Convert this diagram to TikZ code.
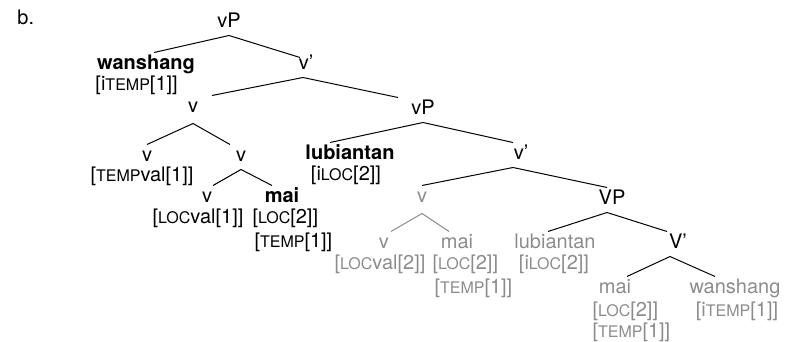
\documentclass[tikz,border=0pt]{standalone}
\usepackage{fontspec}
\setmainfont{TeX Gyre Heros}
\definecolor{trgray}{gray}{0.55}
\newcommand\featsc[1]{{\fontsize{8pt}{8pt}\selectfont #1}}
\begin{document}
\begin{tikzpicture}[x=0.5pt,y=-0.5pt,line width=0.5pt,
    cat/.style={anchor=base,inner xsep=0pt,inner ysep=1.5pt,text height=7pt,text depth=2pt},
    feat/.style={anchor=base,inner sep=0pt},
    grey/.style={text=trgray}]
            \useasboundingbox (0,0) rectangle (800,342);
            \node[feat,anchor=base west] (lbl) at (17,25) {b.};
            \node[cat] (vPa) at (229,28) {vP};
            \node[cat,font=\bfseries] (wan) at (146,70) {wanshang};
            \node[feat,anchor=base west] (wanF) at (95,91) {[i\featsc{TEMP}[1]]};
            \node[cat] (vba) at (306,70) {v'};
            \node[cat] (va) at (193,113) {v};
            \node[cat] (vPb) at (423,115) {vP};
            \node[cat] (vtem) at (147,162) {v};
            \node[feat] (vtemF) at (142,182) {[\featsc{TEMP}val[1]]};
            \node[cat] (vb) at (241,162) {v};
            \node[cat,font=\bfseries] (lub) at (350,160) {lubiantan};
            \node[feat] (lubF) at (346,181) {[i\featsc{LOC}[2]]};
            \node[cat] (vbb) at (521,160) {v'};
            \node[cat] (vloc) at (207,203) {v};
            \node[feat] (vlocF) at (198,224) {[\featsc{LOC}val[1]]};
            \node[cat,font=\bfseries] (mai) at (282,203) {mai};
            \node[feat,anchor=base west] (maiFa) at (252,224) {[\featsc{LOC}[2]]};
            \node[feat,anchor=base west] (maiFb) at (254,248) {[\featsc{TEMP}[1]]};
            \node[cat,grey] (vg) at (422,203) {v};
            \node[cat] (VPa) at (612,205) {VP};
            \node[cat,grey] (vgl) at (384,249) {v};
            \node[feat,grey] (vglF) at (380,270) {[\featsc{LOC}val[2]]};
            \node[cat,grey] (maig) at (457,249) {mai};
            \node[feat,grey,anchor=base west] (maigFa) at (432,270) {[\featsc{LOC}[2]]};
            \node[feat,grey,anchor=base west] (maigFb) at (434,294) {[\featsc{TEMP}[1]]};
            \node[cat,grey] (lubg) at (555,249) {lubiantan};
            \node[feat,grey] (lubgF) at (554,270) {[i\featsc{LOC}[2]]};
            \node[cat] (Vb) at (678,249) {V'};
            \node[cat,grey] (maih) at (615,294) {mai};
            \node[feat,grey,anchor=base west] (maihFa) at (592,317) {[\featsc{LOC}[2]]};
            \node[feat,grey,anchor=base west] (maihFb) at (592,338) {[\featsc{TEMP}[1]]};
            \node[cat,grey] (wang) at (735,294) {wanshang};
            \node[feat,grey] (wangF) at (737,317) {[i\featsc{TEMP}[1]]};
            \draw ([xshift=4pt]wan.north) -- (vPa.south) -- ([xshift=-3pt,yshift=-2.5pt]vba.north);
            \draw ([xshift=9.5pt]va.north) -- ([xshift=-1.5pt]vba.south) -- ([xshift=-12.5pt]vPb.north);
            \draw (vtem.north) -- ([yshift=-1.5pt]va.south) -- ([xshift=-5.5pt]vb.north);
            \draw ([xshift=3pt]vloc.north) -- (vb.south) -- ([xshift=-5pt]mai.north);
            \draw ([xshift=-10pt]lub.north) -- (vPb.south) -- ([xshift=-4pt]vbb.north);
            \draw (vg.north) -- ([xshift=-4pt]vbb.south) -- ([xshift=-2.5pt]VPa.north);
            \draw[trgray] ([xshift=3.5pt]vgl.north) -- ([yshift=-1.5pt]vg.south) -- ([xshift=-4pt]maig.north);
            \draw ([xshift=-3.5pt]lubg.north) -- ([xshift=-2.5pt]VPa.south) -- ([xshift=-5.5pt]Vb.north);
            \draw ([xshift=6pt]maih.north) -- ([xshift=-4pt]Vb.south) -- ([xshift=-10pt]wang.north);
        \end{tikzpicture}
\end{document}
